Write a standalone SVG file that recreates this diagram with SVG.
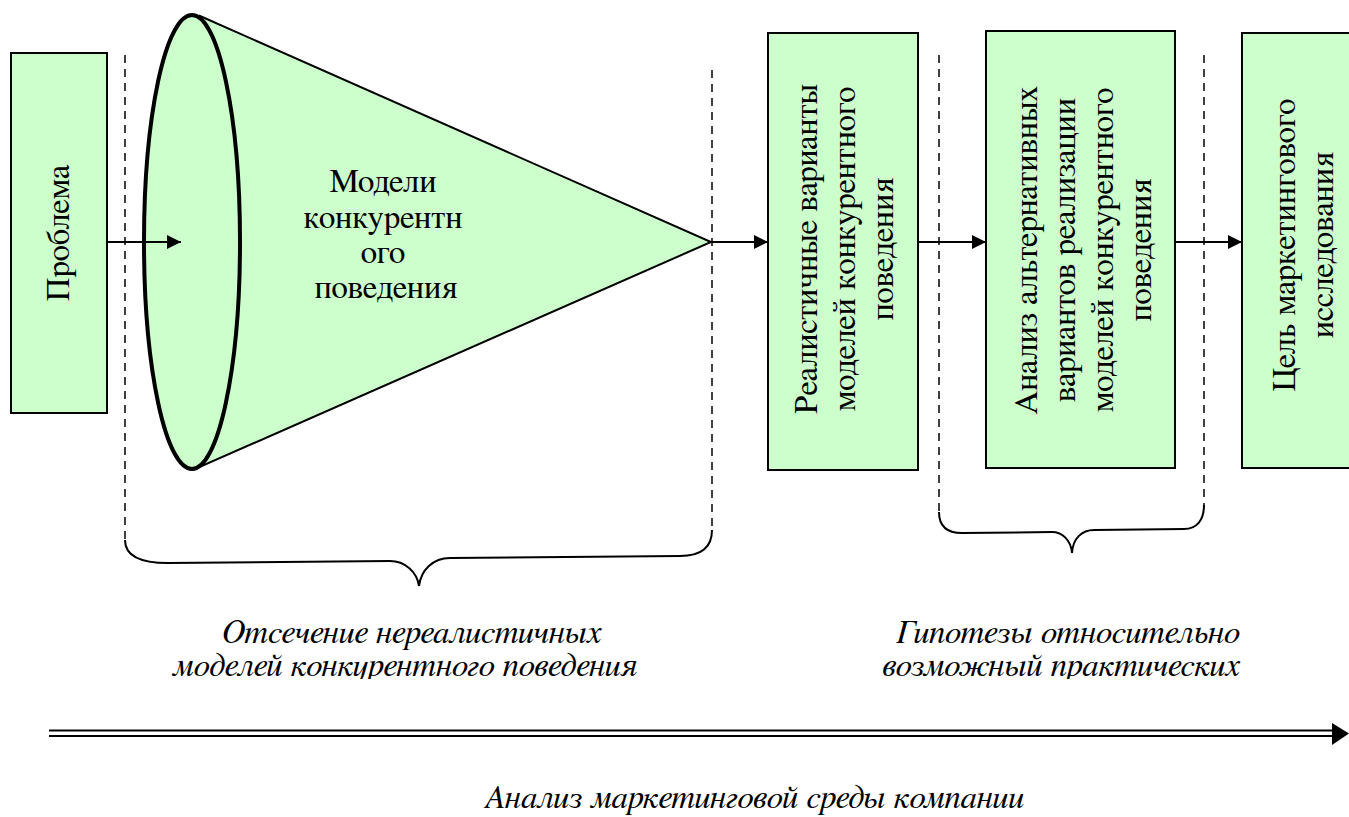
<svg xmlns="http://www.w3.org/2000/svg" width="1349" height="817" viewBox="0 0 1349 817">
  <style>
    .box { fill: #ccffcc; stroke: #000; stroke-width: 2; }
    .t { font-family: FreeSerif, 'Liberation Serif', serif; font-size: 33px; fill: #000; text-anchor: middle; }
    .ti { font-family: FreeSerif, 'Liberation Serif', serif; font-size: 33px; font-style: italic; fill: #000; text-anchor: middle; }
    .link { stroke: #000; stroke-width: 2; fill: none; }
    .dash { stroke: #000; stroke-width: 1.5; stroke-dasharray: 8 6; fill: none; }
    .brace { stroke: #000; stroke-width: 2; fill: none; }
  </style>
  <defs>
    <marker id="arr" viewBox="0 0 10 10" refX="10" refY="5" markerWidth="14" markerHeight="14" markerUnits="userSpaceOnUse" orient="auto">
      <path d="M0,0 L10,5 L0,10 z" fill="#000"/>
    </marker>
    <clipPath id="cut">
      <rect x="0" y="0" width="1349" height="679"/>
    </clipPath>
  </defs>
  <rect width="1349" height="817" fill="#fff"/>

  <!-- stage brackets -->
  <g id="brackets">
    <line class="dash" x1="125" y1="55" x2="125" y2="540"/>
    <line class="dash" x1="712" y1="70" x2="712" y2="530"/>
    <path class="brace" d="M125,540 C125,555 140,563 168,563 L390,561 C405,561 417,572 419,586 C421,570 433,558 450,558 L680,556 C700,556 712,548 712,530"/>
    <line class="dash" x1="939" y1="55" x2="939" y2="512"/>
    <line class="dash" x1="1204" y1="55" x2="1204" y2="505"/>
    <path class="brace" d="M939,512 C939,525 946,533 962,533 L1052,532 C1062,532 1071,540 1072,553 C1073,538 1082,530 1094,530 L1184,529 C1197,529 1204,520 1204,505"/>
  </g>

  <g id="problem">
    <rect class="box" x="11" y="53" width="96" height="360"/>
    <text class="t" transform="translate(69,233) rotate(-90)">Проблема</text>
  </g>

  <g id="models">
    <polygon points="200,16 711,242 195,469" fill="#ccffcc" stroke="#000" stroke-width="2" stroke-linejoin="miter"/>
    <ellipse cx="192" cy="242" rx="48" ry="227" fill="#ccffcc" stroke="#000" stroke-width="4"/>
    <text class="t" x="383" y="192">Модели</text>
    <text class="t" x="383" y="228">конкурентн</text>
    <text class="t" x="383" y="263">ого</text>
    <text class="t" x="386" y="298">поведения</text>
  </g>

  <g id="realistic">
    <rect class="box" x="768" y="33" width="150" height="437"/>
    <g transform="translate(843,249) rotate(-90)">
      <text class="t" x="0" y="-26">Реалистичные варианты</text>
      <text class="t" x="0" y="12">моделей конкурентного</text>
      <text class="t" x="0" y="50">поведения</text>
    </g>
  </g>

  <g id="alternatives">
    <rect class="box" x="986" y="31" width="189" height="437"/>
    <g transform="translate(1080,250) rotate(-90)">
      <text class="t" x="0" y="-43">Анализ альтернативных</text>
      <text class="t" x="0" y="-5">вариантов реализации</text>
      <text class="t" x="0" y="33">моделей конкурентного</text>
      <text class="t" x="0" y="71">поведения</text>
    </g>
  </g>

  <g id="goal">
    <rect class="box" x="1242" y="33" width="120" height="435"/>
    <g transform="translate(1303,245) rotate(-90)">
      <text class="t" x="0" y="-8">Цель маркетингового</text>
      <text class="t" x="0" y="30">исследования</text>
    </g>
  </g>

  <!-- connectors -->
  <g id="connectors">
    <line class="link" x1="107" y1="242" x2="181" y2="242" marker-end="url(#arr)"/>
    <line class="link" x1="711" y1="242" x2="768" y2="242" marker-end="url(#arr)"/>
    <line class="link" x1="918" y1="242" x2="986" y2="242" marker-end="url(#arr)"/>
    <line class="link" x1="1175" y1="242" x2="1242" y2="242" marker-end="url(#arr)"/>
  </g>

  <g id="labels" clip-path="url(#cut)">
    <text class="ti" x="412" y="643">Отсечение нереалистичных</text>
    <text class="ti" x="405" y="676">моделей конкурентного поведения</text>
    <text class="ti" x="1068" y="643">Гипотезы относительно</text>
    <text class="ti" x="1061" y="676">возможный практических</text>
  </g>

  <!-- timeline -->
  <g id="timeline">
    <line x1="49" y1="730.5" x2="1334" y2="730.5" stroke="#000" stroke-width="2"/>
    <line x1="49" y1="736" x2="1334" y2="736" stroke="#000" stroke-width="2"/>
    <polygon points="1332,723 1349,733.5 1332,745" fill="#000"/>
    <text class="ti" x="754" y="808">Анализ маркетинговой среды компании</text>
  </g>
</svg>
